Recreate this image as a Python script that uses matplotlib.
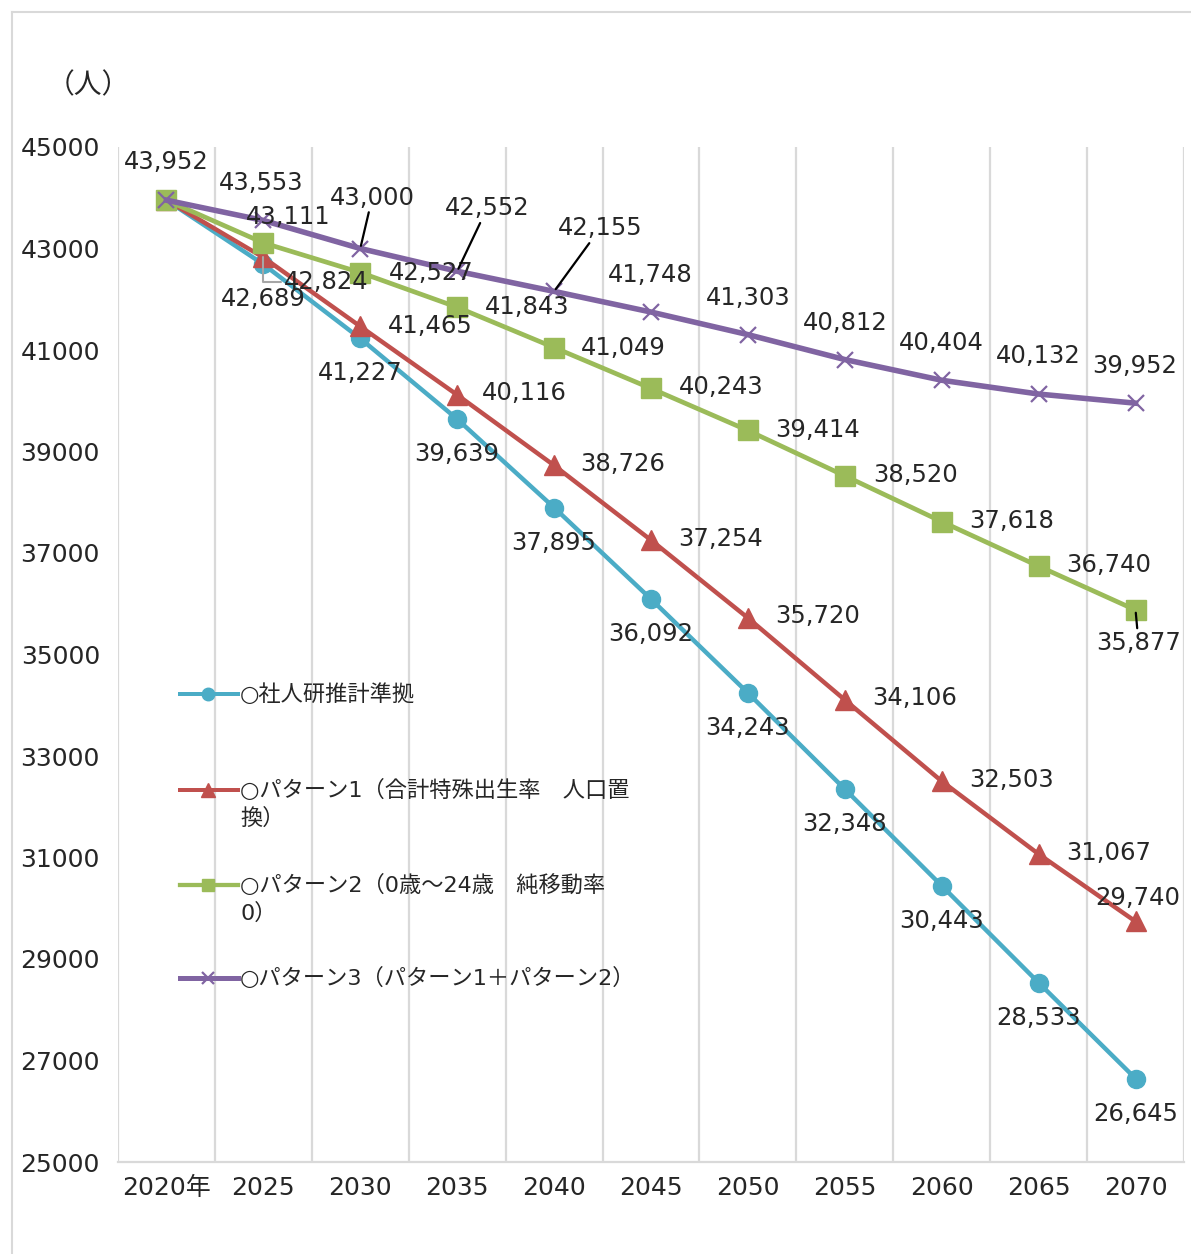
import matplotlib.pyplot as plt
from matplotlib.lines import Line2D

plt.rcParams['font.family'] = ['DejaVu Sans', 'Noto Sans CJK JP']

# データ
years = ["2020年", "2025", "2030", "2035", "2040", "2045",
         "2050", "2055", "2060", "2065", "2070"]
ipss = [43952, 42689, 41227, 39639, 37895, 36092, 34243, 32348, 30443, 28533, 26645]
pat1 = [43952, 42824, 41465, 40116, 38726, 37254, 35720, 34106, 32503, 31067, 29740]
pat2 = [43952, 43111, 42527, 41843, 41049, 40243, 39414, 38520, 37618, 36740, 35877]
pat3 = [43952, 43553, 43000, 42552, 42155, 41748, 41303, 40812, 40404, 40132, 39952]
names = ["○社人研推計準拠",
         "○パターン1（合計特殊出生率　人口置\n換）",
         "○パターン2（0歳～24歳　純移動率\n0）",
         "○パターン3（パターン1＋パターン2）"]

W, H = 1191, 1254
fig = plt.figure(figsize=(W / 100, H / 100), dpi=100)
ax = fig.add_axes([118 / W, 1 - 1162 / H, (1184 - 118) / W, (1162 - 147) / H])

styles = [
    dict(color="#4BACC6", marker="o", ms=13, lw=3.2, mec="#4BACC6"),
    dict(color="#C0504D", marker="^", ms=14, lw=3.2, mec="#C0504D"),
    dict(color="#9BBB59", marker="s", ms=14, lw=3.4, mec="#9BBB59"),
    dict(color="#8064A2", marker="x", ms=12, lw=4.0, mew=1.6, mec="#8064A2"),
]
series = [ipss, pat1, pat2, pat3]
x = list(range(len(years)))

for k, (vals, st) in enumerate(zip(series, styles)):
    ax.plot(x, vals, zorder=2 + k, clip_on=False, **st)

# ラベル位置 (ピクセル単位のオフセット)
offs = [
    [(0, 38)] + [(0, -35)] * 10,
    [None, (63, -25), (70, 0), (67, 2), (69, 1), (70, 1), (70, 2), (70, 2), (70, 1), (70, 1), (2, 23)],
    [None, (25, 26), (71, 0), (70, 0), (69, 0), (70, 1), (70, 0), (71, 1), (70, 1), (70, 1), (3, -33)],
    [None, (-2, 37), (12, 51), (30, 63), (46, 63), (-1, 37), (0, 37), (0, 37), (0, 37), (0, 38), (-1, 37)],
]
leaders = {(1, 1): "gray", (2, 10): "black", (3, 2): "black", (3, 3): "black", (3, 4): "black"}

for k, vals in enumerate(series):
    for i, v in enumerate(vals):
        o = offs[k][i]
        if o is None:
            continue
        kw = {}
        if (k, i) in leaders:
            if leaders[(k, i)] == "gray":
                kw["arrowprops"] = dict(arrowstyle="-", color="#A6A6A6", lw=1.5,
                                        shrinkA=0, shrinkB=0, relpos=(0, 0.5),
                                        connectionstyle="angle,angleA=0,angleB=90,rad=0")
            else:
                kw["arrowprops"] = dict(arrowstyle="-", color="black", lw=1.6,
                                        shrinkA=0, shrinkB=2)
        ax.annotate(f"{v:,}", (i, v), xytext=o, textcoords="offset pixels",
                    ha="center", va="center", fontsize=17.5, color="#262626",
                    zorder=20, annotation_clip=False, **kw)

ax.set_xlim(-0.5, len(years) - 0.5)
ax.set_ylim(25000, 45000)
ax.set_yticks(range(25000, 45001, 2000))
ax.set_xticks(x)
ax.set_xticklabels(years)
ax.set_xticks([i - 0.5 for i in range(len(years) + 1)], minor=True)
ax.grid(True, which="minor", axis="x", color="#D9D9D9", lw=1.6)
ax.tick_params(axis="both", which="both", length=0, labelsize=18, colors="#262626")
ax.tick_params(axis="y", pad=13)
ax.tick_params(axis="x", pad=10)
for s in ["left", "right", "top"]:
    ax.spines[s].set_visible(False)
ax.spines["bottom"].set_color("#D9D9D9")
ax.spines["bottom"].set_linewidth(1.6)
ax.set_axisbelow(True)

# 単位
fig.text(88 / W, 1 - 85 / H, "（人）", ha="center", va="center", fontsize=20,
         color="#262626", family="Noto Sans CJK JP")

# 凡例
leg_y = [694, 790, 885, 978]
leg_ms = [9, 10, 9, 8]
for st, name, ly, ms in zip(styles, names, leg_y, leg_ms):
    fy = 1 - ly / H
    fig.add_artist(Line2D([180 / W, 238 / W], [fy, fy], color=st["color"], lw=st["lw"] * 0.9))
    fig.add_artist(Line2D([208 / W], [fy], color=st["color"], marker=st["marker"], ms=ms,
                          mew=st.get("mew", 1.0), mec=st["color"], ls="none"))
    for j, line in enumerate(name.split("\n")):
        fig.text(240 / W, 1 - (ly + 28 * j) / H, line, ha="left", va="center",
                 fontsize=16, color="#262626")

# 外枠
fig.add_artist(Line2D([12 / W, 1.0], [1 - 12 / H, 1 - 12 / H], color="#D9D9D9", lw=1.5))
fig.add_artist(Line2D([12 / W, 12 / W], [1 - 12 / H, 0.0], color="#D9D9D9", lw=1.5))

fig.savefig("out.png", dpi=100)
